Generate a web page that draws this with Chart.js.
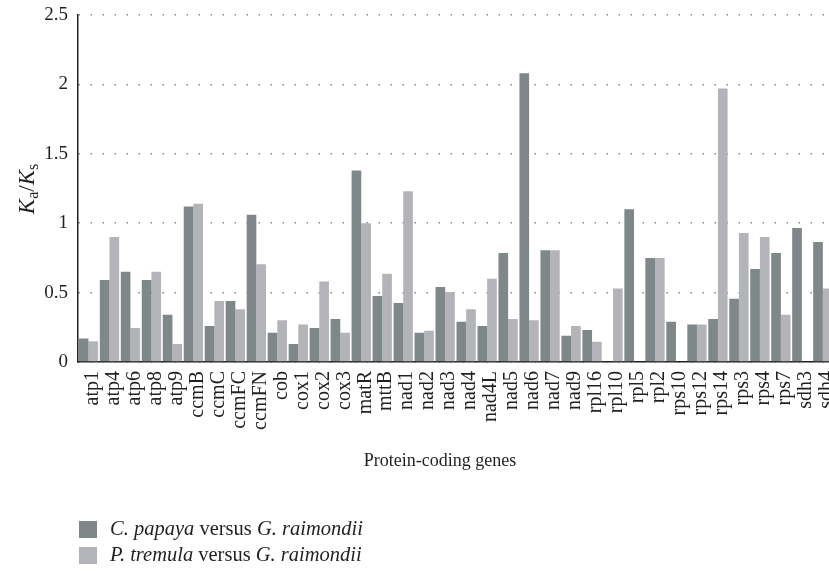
<!DOCTYPE html>
<html><head><meta charset="utf-8">
<script src="https://cdn.jsdelivr.net/npm/chart.js@4/dist/chart.umd.min.js"></script>
<style>
html,body{margin:0;padding:0;background:#fff;overflow:hidden;width:829px;height:571px}
#wrap{width:829px;height:571px;overflow:hidden;position:relative}
canvas{display:block}
</style></head>
<body><div id="wrap"><canvas id="c" width="856" height="571"></canvas></div>
<script>
const genes = ['atp1','atp4','atp6','atp8','atp9','ccmB','ccmC','ccmFC','ccmFN','cob','cox1','cox2','cox3','matR','mttB','nad1','nad2','nad3','nad4','nad4L','nad5','nad6','nad7','nad9','rpl16','rpl10','rpl5','rpl2','rps10','rps12','rps14','rps3','rps4','rps7','sdh3','sdh4'];
const papaya = [0.17,0.59,0.65,0.59,0.34,1.12,0.26,0.44,1.06,0.21,0.13,0.245,0.31,1.38,0.475,0.425,0.21,0.54,0.29,0.26,0.785,2.08,0.805,0.19,0.23,null,1.10,0.75,0.29,0.27,0.31,0.455,0.67,0.785,0.965,0.865];
const tremula = [0.15,0.90,0.245,0.65,0.13,1.14,0.44,0.38,0.705,0.30,0.27,0.58,0.21,1.00,0.635,1.23,0.225,0.505,0.38,0.60,0.31,0.30,0.805,0.26,0.145,0.53,null,0.75,null,0.27,1.97,0.93,0.90,0.34,null,0.53];
const yTicks = [0,0.5,1,1.5,2,2.5];
const yTickLabels = ['0','0.5','1','1.5','2','2.5'];
const seriesNames = ['C. papaya versus G. raimondii','P. tremula versus G. raimondii'];
const xTitle = 'Protein-coding genes';

const SERIF = '"Liberation Serif", "Times New Roman", serif';
const colors = ['#7f8789','#b3b4b8'];

const decor = {
  id: 'decor',
  afterDraw(chart) {
    const ctx = chart.ctx;
    ctx.save();
    ctx.fillStyle = '#231f20';
    // y title K_a/K_s
    ctx.save();
    ctx.translate(34, 189);
    ctx.rotate(-Math.PI/2);
    const parts = [
      {t:'K', f:'italic 23px ' + SERIF, dy:0},
      {t:'a', f:'16px ' + SERIF, dy:4},
      {t:'/', f:'23px ' + SERIF, dy:0},
      {t:'K', f:'italic 23px ' + SERIF, dy:0},
      {t:'s', f:'16px ' + SERIF, dy:4}
    ];
    let w = 0;
    parts.forEach(p => { ctx.font = p.f; p.w = ctx.measureText(p.t).width; w += p.w; });
    let x = -w/2;
    ctx.textBaseline = 'alphabetic';
    ctx.textAlign = 'left';
    parts.forEach(p => { ctx.font = p.f; ctx.fillText(p.t, x, p.dy); x += p.w; });
    ctx.restore();
    // x title
    ctx.font = '18px ' + SERIF;
    ctx.textAlign = 'center';
    ctx.textBaseline = 'middle';
    ctx.fillText(xTitle, 440, 461);
    // legend
    ctx.textAlign = 'left';
    ctx.textBaseline = 'middle';
    chart.data.datasets.forEach((ds, i) => {
      const y0 = 521 + i * 26;
      ctx.fillStyle = ds.backgroundColor;
      ctx.fillRect(79, y0, 18, 17);
      ctx.fillStyle = '#231f20';
      const label = ds.label;
      const idx = label.indexOf(' versus ');
      const segs = [
        {t: label.slice(0, idx), f: 'italic 20.5px ' + SERIF},
        {t: ' versus ', f: '20.5px ' + SERIF},
        {t: label.slice(idx + 8), f: 'italic 20.5px ' + SERIF}
      ];
      let lx = 110;
      segs.forEach(s => { ctx.font = s.f; ctx.fillText(s.t, lx, y0 + 9); lx += ctx.measureText(s.t).width; });
    });
    ctx.restore();
  }
};

new Chart(document.getElementById('c'), {
  type: 'bar',
  data: {
    labels: genes,
    datasets: [
      {label: seriesNames[0], data: papaya, backgroundColor: colors[0]},
      {label: seriesNames[1], data: tremula, backgroundColor: colors[1]}
    ]
  },
  options: {
    responsive: false,
    animation: false,
    maintainAspectRatio: false,
    layout: {padding: {top: 15, right: 11, left: 0, bottom: 0}},
    datasets: {bar: {categoryPercentage: 0.92, barPercentage: 1.0}},
    plugins: {legend: {display: false}, tooltip: {enabled: false}, title: {display: false}},
    scales: {
      x: {
        offset: true,
        grid: {display: false, drawTicks: false},
        border: {display: true, color: '#231f20', width: 1.5},
        ticks: {
          autoSkip: false, maxRotation: 90, minRotation: 90,
          padding: 9, labelOffset: 4,
          color: '#231f20', font: {family: SERIF, size: 20}
        },
        afterFit(s) { s.height = 209; }
      },
      y: {
        min: 0, max: 2.5,
        afterBuildTicks(s) { s.ticks = yTicks.map(v => ({value: v})); },
        grid: {display: true, drawTicks: false, color: '#888', lineWidth: 1.5},
        border: {display: true, color: '#231f20', width: 1.5, dash: [1.5, 10.5]},
        ticks: {
          padding: 10, color: '#231f20', font: {family: SERIF, size: 19, lineHeight: 0.5},
          callback: (v) => yTickLabels[yTicks.indexOf(v)] ?? String(v)
        },
        afterFit(s) { s.width = 78; }
      }
    }
  },
  plugins: [decor]
});
</script>
</body></html>
